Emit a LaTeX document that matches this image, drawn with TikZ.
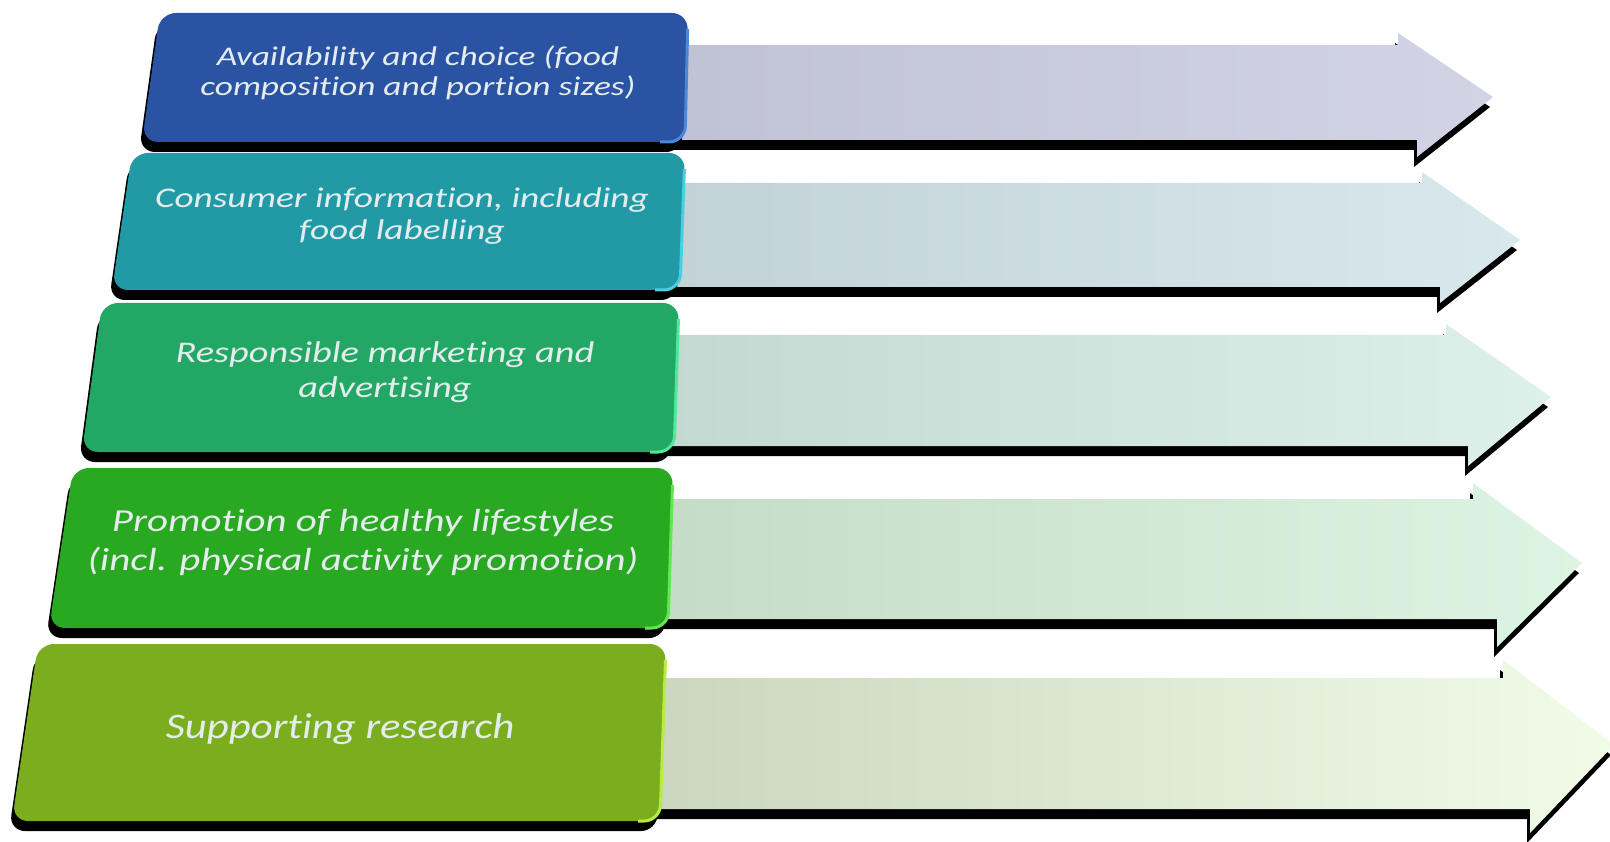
\documentclass[tikz,border=0pt]{standalone}
\usepackage{fontspec}
\setmainfont{Carlito}
\newfontfamily\wideA{Carlito}[FakeStretch=1.31, Ligatures=NoCommon]
\newfontfamily\wideB{Carlito}[FakeStretch=1.28, Ligatures=NoCommon]
\newfontfamily\wideC{Carlito}[FakeStretch=1.19, Ligatures=NoCommon]
\definecolor{bA}{HTML}{2A53A3}\definecolor{hA}{HTML}{4A86DA}
\definecolor{bB}{HTML}{229AA6}\definecolor{hB}{HTML}{48D0E0}
\definecolor{bC}{HTML}{23A764}\definecolor{hC}{HTML}{50E898}
\definecolor{bD}{HTML}{29A821}\definecolor{hD}{HTML}{60E850}
\definecolor{bE}{HTML}{7BAE1F}\definecolor{hE}{HTML}{B8EC40}
\definecolor{aAl}{HTML}{BEC1D3}\definecolor{aAr}{HTML}{D2D4E6}
\definecolor{aBl}{HTML}{C0D1D6}\definecolor{aBr}{HTML}{D8E8EC}
\definecolor{aCl}{HTML}{C0D7CF}\definecolor{aCr}{HTML}{DDF0EA}
\definecolor{aDl}{HTML}{C3DAC6}\definecolor{aDr}{HTML}{DEF4E2}
\definecolor{aEl}{HTML}{C9D4BC}\definecolor{aEr}{HTML}{F0FCE8}
\definecolor{txt}{HTML}{E4ECEE}
% arrow: x0, shaft top, shaft bottom, notch top x, head top y, tip x, tip y, notch bottom x, head bottom y
\newcommand\arrpath[9]{(#1,#2) -- (#4,#2) -- (#4,#5) -- (#6,#7) -- (#8,#9) -- (#8,#3) -- (#1,#3) -- cycle}
% box: top, bottom, left-top x, left-bottom x, right-top x, right-bottom x
\newcommand\boxpath[6]{(#3,#1) -- (#5,#1) -- (#6,#2) -- (#4,#2) -- cycle}
\tikzset{
  shadowshape/.style={fill=black, shift={(-3,10)}},
  boxshape/.style={rounded corners=16},
  label/.style={text=txt, align=center, inner sep=0pt},
}
\begin{document}
\begin{tikzpicture}[x=1pt,y=-1pt]
\useasboundingbox (0,0) rectangle (1610,842);
\fill[white] (0,0) rectangle (1610,842);

% ---- row 1
\fill[shadowshape] \arrpath{600}{45}{140}{1398}{33}{1493}{97}{1417}{157};
\shade[left color=aAl, right color=aAr] \arrpath{600}{45}{140}{1398}{33}{1493}{97}{1417}{157};
\fill[shadowshape, boxshape] \boxpath{13}{142}{160}{142}{688}{685};
\fill[bA, boxshape] \boxpath{13}{142}{160}{142}{688}{685};
\begin{scope}\clip (660,30) rectangle (700,150);
\draw[hA, line width=3, boxshape] \boxpath{13}{142}{160}{142}{688}{685};\end{scope}
\node[label, font=\wideA\itshape\fontsize{27}{30}\selectfont] (b1) at (418,73) {Availability and choice (food\\composition and portion sizes)};

% ---- row 2
\fill[shadowshape] \arrpath{600}{183}{287}{1422}{172}{1520}{240}{1440}{303};
\shade[left color=aBl, right color=aBr] \arrpath{600}{183}{287}{1422}{172}{1520}{240}{1440}{303};
\fill[shadowshape, boxshape] \boxpath{153}{290}{132}{112}{685}{680};
\fill[bB, boxshape] \boxpath{153}{290}{132}{112}{685}{680};
\begin{scope}\clip (655,170) rectangle (700,300);
\draw[hB, line width=3, boxshape] \boxpath{153}{290}{132}{112}{685}{680};\end{scope}
\node[label, font=\wideA\itshape\fontsize{28.5}{32}\selectfont] (b2) at (402,216) {Consumer information, including\\food labelling};

% ---- row 3
\fill[shadowshape] \arrpath{600}{335}{446}{1446}{324}{1551}{397}{1468}{466};
\shade[left color=aCl, right color=aCr] \arrpath{600}{335}{446}{1446}{324}{1551}{397}{1468}{466};
\fill[shadowshape, boxshape] \boxpath{303}{452}{102}{82}{679}{674};
\fill[bC, boxshape] \boxpath{303}{452}{102}{82}{679}{674};
\begin{scope}\clip (650,320) rectangle (700,460);
\draw[hC, line width=3, boxshape] \boxpath{303}{452}{102}{82}{679}{674};\end{scope}
\node[label, font=\wideB\itshape\fontsize{30}{35}\selectfont] (b3) at (385,372) {Responsible marketing and\\advertising};

% ---- row 4
\fill[shadowshape] \arrpath{600}{499}{619}{1473}{483}{1582}{563}{1497}{647};
\shade[left color=aDl, right color=aDr] \arrpath{600}{499}{619}{1473}{483}{1582}{563}{1497}{647};
\fill[shadowshape, boxshape] \boxpath{468}{628}{73}{49}{673}{668};
\fill[bD, boxshape] \boxpath{468}{628}{73}{49}{673}{668};
\begin{scope}\clip (645,485) rectangle (700,640);
\draw[hD, line width=3, boxshape] \boxpath{468}{628}{73}{49}{673}{668};\end{scope}
\node[label, font=\wideB\itshape\fontsize{32}{39}\selectfont] (b4) at (363,542) {Promotion of healthy lifestyles\\(incl. physical activity promotion)};

% ---- row 5
\fill[shadowshape] \arrpath{600}{678}{809}{1503}{660}{1614}{745}{1530}{833};
\shade[left color=aEl, right color=aEr] \arrpath{600}{678}{809}{1503}{660}{1614}{745}{1530}{833};
\fill[shadowshape, boxshape] \boxpath{644}{821}{38}{12}{666}{660};
\fill[bE, boxshape] \boxpath{644}{821}{38}{12}{666}{660};
\begin{scope}\clip (638,660) rectangle (700,830);
\draw[hE, line width=3, boxshape] \boxpath{644}{821}{38}{12}{666}{660};\end{scope}
\node[label, font=\wideC\itshape\fontsize{36}{40}\selectfont] (b5) at (340,729) {Supporting research};
\end{tikzpicture}
\end{document}
